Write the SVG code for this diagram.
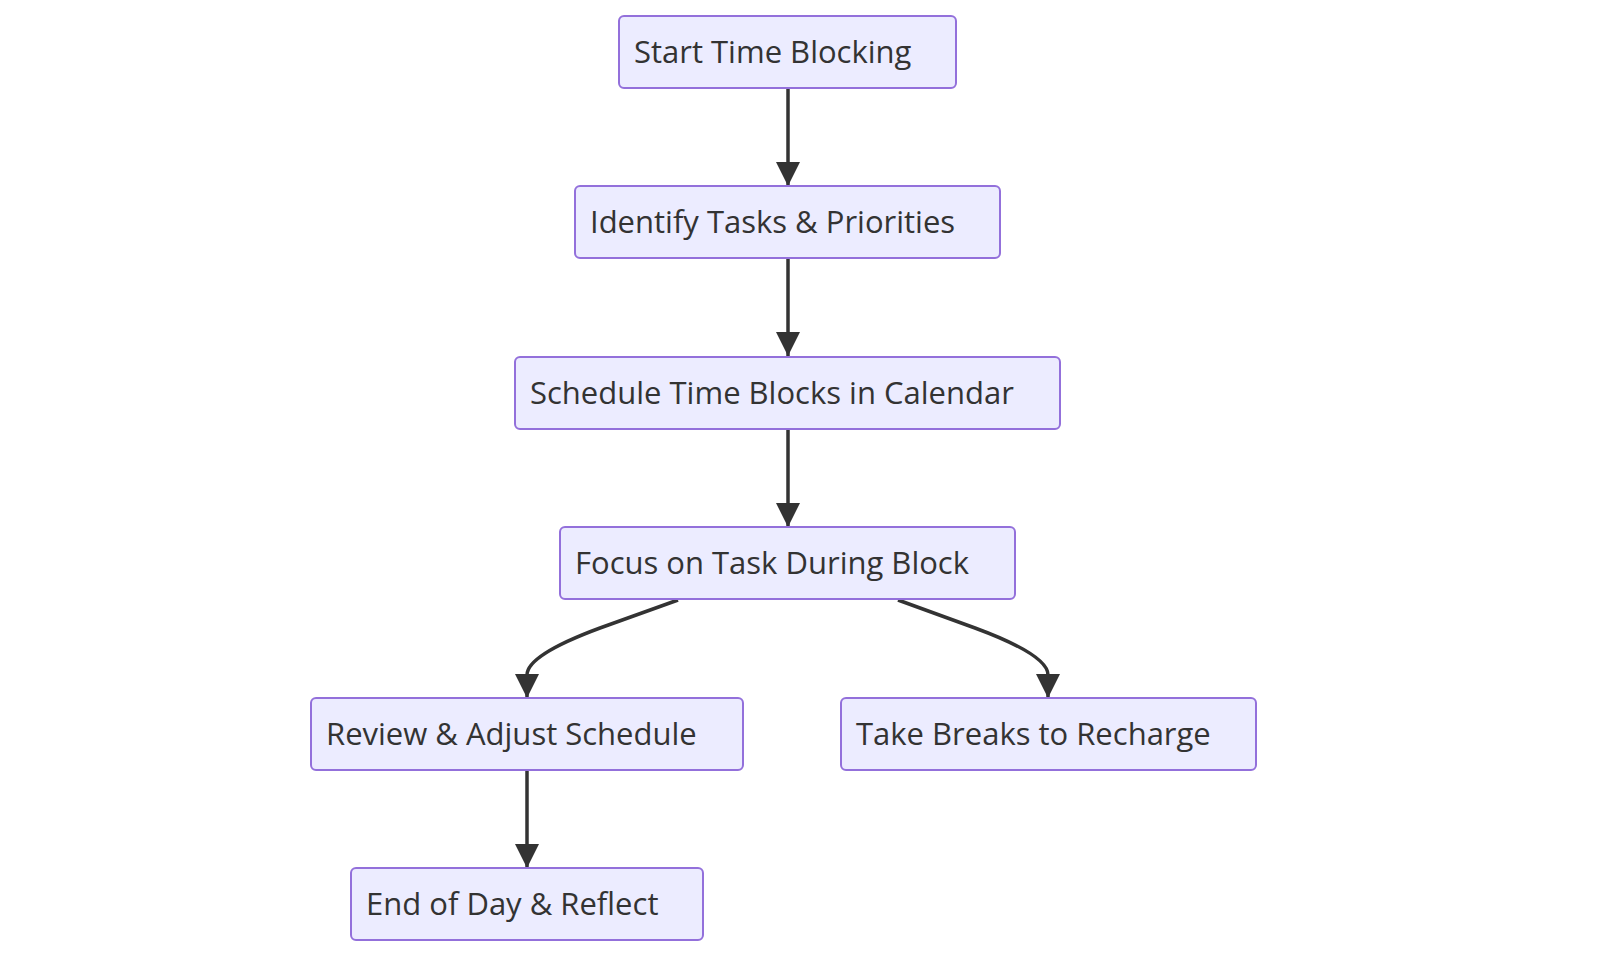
<svg xmlns="http://www.w3.org/2000/svg" width="1600" height="976" viewBox="0 0 1600 976">
<style>
.n rect{fill:#ECECFF;stroke:#9370DB;stroke-width:2}
.n text{font-family:"Open Sans","Liberation Sans",sans-serif;font-size:31px;fill:#333}
.e path{fill:none;stroke:#333;stroke-width:3.5}
</style>
<defs>
<marker id="b" viewBox="0 0 10 10" refX="10" refY="5" markerWidth="24" markerHeight="24" markerUnits="userSpaceOnUse" orient="auto"><path d="M0,0L10,5L0,10z" fill="#333"/></marker></defs>
<rect width="1600" height="976" fill="#fff"/>
<g class="e">
<path d="M788,89V186" marker-end="url(#b)"/>
<path d="M788,259V356" marker-end="url(#b)"/>
<path d="M788,430V527" marker-end="url(#b)"/>
<path d="M678,600L600,628Q527,655 527,675V698" marker-end="url(#b)"/>
<path d="M898,600L975,628Q1048,655 1048,675V698" marker-end="url(#b)"/>
<path d="M527,771V868" marker-end="url(#b)"/>
</g>
<g class="n" id="n1"><rect x="619" y="16" width="337" height="72" rx="5"/><text x="634" y="63">Start Time Blocking</text></g>
<g class="n" id="n2"><rect x="575" y="186" width="425" height="72" rx="5"/><text x="590" y="233">Identify Tasks &amp; Priorities</text></g>
<g class="n" id="n3"><rect x="515" y="357" width="545" height="72" rx="5"/><text x="530" y="404">Schedule Time Blocks in Calendar</text></g>
<g class="n" id="n4"><rect x="560" y="527" width="455" height="72" rx="5"/><text x="575" y="574">Focus on Task During Block</text></g>
<g class="n" id="n5"><rect x="311" y="698" width="432" height="72" rx="5"/><text x="326" y="745">Review &amp; Adjust Schedule</text></g>
<g class="n" id="n6"><rect x="841" y="698" width="415" height="72" rx="5"/><text x="856" y="745">Take Breaks to Recharge</text></g>
<g class="n" id="n7"><rect x="351" y="868" width="352" height="72" rx="5"/><text x="366" y="915">End of Day &amp; Reflect</text></g>
</svg>
